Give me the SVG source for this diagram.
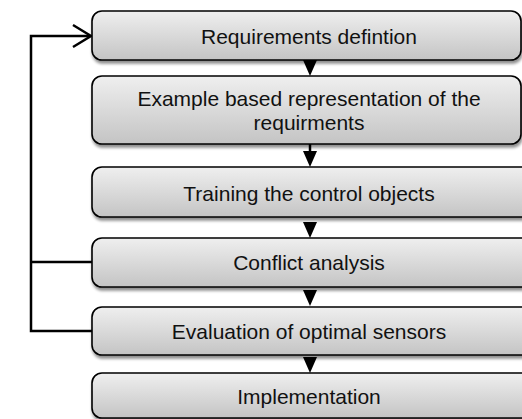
<svg xmlns="http://www.w3.org/2000/svg" width="522" height="419" viewBox="0 0 522 419">
<defs>
<linearGradient id="g" x1="0" y1="0" x2="0" y2="1">
<stop offset="0" stop-color="#efefef"/>
<stop offset="1" stop-color="#c4c4c4"/>
</linearGradient>
<filter id="sh" x="-5%" y="-10%" width="115%" height="140%">
<feGaussianBlur in="SourceAlpha" stdDeviation="1.8"/>
<feOffset dx="1" dy="3" result="b"/>
<feComponentTransfer><feFuncA type="linear" slope="0.45"/></feComponentTransfer>
<feMerge><feMergeNode/><feMergeNode in="SourceGraphic"/></feMerge>
</filter>
</defs>
<style>
.box{fill:url(#g);stroke:#000;stroke-width:1.6;filter:url(#sh)}
.t{font-family:"Liberation Sans",Arial,sans-serif;font-size:21px;fill:#111;text-anchor:middle}
.ln{stroke:#000;stroke-width:2.5;fill:none}
.ah{fill:#000}
</style>
<g id="connectors">
<path class="ln" d="M31,262 L94,262"/>
<path class="ln" d="M94,331 L31,331 L31,36 L90,36"/>
<path class="ln" d="M73,25 L91,36 L73,47"/>
<path class="ln" d="M310,143 L310,152" stroke-width="2"/>
</g>
<g id="n1"><rect class="box" x="92" y="11" width="429" height="49" rx="10"/><text class="t" x="309" y="44">Requirements defintion</text></g>
<g id="n2"><rect class="box" x="92" y="76" width="429" height="68" rx="10"/><text class="t" x="309" y="106">Example based representation of the</text><text class="t" x="309" y="130">requirments</text></g>
<g id="n3"><rect class="box" x="92" y="167" width="440" height="50" rx="10"/><text class="t" x="309" y="201">Training the control objects</text></g>
<g id="n4"><rect class="box" x="92" y="238" width="440" height="49" rx="10"/><text class="t" x="309" y="270">Conflict analysis</text></g>
<g id="n5"><rect class="box" x="92" y="307" width="440" height="48" rx="10"/><text class="t" x="309" y="339">Evaluation of optimal sensors</text></g>
<g id="n6"><rect class="box" x="92" y="373" width="440" height="45" rx="10"/><text class="t" x="309" y="404">Implementation</text></g>
<g id="arrowheads">
<polygon class="ah" points="303,60 317,60 310,76"/>
<polygon class="ah" points="303,151 317,151 310,167"/>
<polygon class="ah" points="303,222 317,222 310,238"/>
<polygon class="ah" points="303,290 317,290 310,306"/>
<polygon class="ah" points="303,357 317,357 310,373"/>
</g>
</svg>
